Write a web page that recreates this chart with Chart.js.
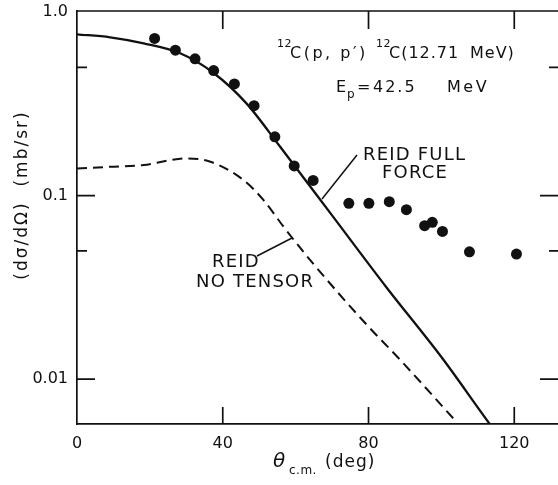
<!DOCTYPE html>
<html>
<head>
<meta charset="utf-8">
<script src="https://cdn.jsdelivr.net/npm/chart.js@4"></script>
<style>html,body{margin:0;padding:0;background:#fff}canvas{display:block}</style>
</head>
<body>
<canvas id="myChart" width="558" height="485"></canvas>
<script>
const xTicks = [0, 40, 80, 120];
const yTicks = [1, 0.1, 0.01];
const yTickLabels = ['1.0', '0.1', '0.01'];
const yMinorTicks = [0.5, 0.05];

// measured 12C(p,p') points
const dataAngles = [21.3, 27.0, 32.4, 37.5, 43.2, 48.6, 54.3, 59.6, 64.8, 74.6, 80.1, 85.7, 90.4, 95.4, 97.5, 100.3, 107.7, 120.6];
const dataValues = [0.718, 0.620, 0.556, 0.480, 0.406, 0.309, 0.209, 0.145, 0.121, 0.0908, 0.0908, 0.0927, 0.0838, 0.0686, 0.0715, 0.0638, 0.0494, 0.048];

// Reid full force (solid)
const fullAngles = [0, 9.1, 18.3, 28.3, 37.4, 46.5, 55.7, 70, 85, 100, 113.3, 116];
const fullValues = [0.756, 0.728, 0.675, 0.596, 0.467, 0.318, 0.185, 0.078, 0.0315, 0.0132, 0.00569, 0.00483];

// Reid no tensor (dashed)
const noTensorAngles = [0, 9.1, 18.3, 25.6, 30.2, 36.6, 45.7, 51.2, 56.7, 64.0, 79.5, 88.6, 103.7];
const noTensorValues = [0.1407, 0.1435, 0.1467, 0.156, 0.1595, 0.1529, 0.1215, 0.0945, 0.0676, 0.0445, 0.0198, 0.0128, 0.00598];

const ink = '#111';
const font = 'DejaVu Sans';

const toXY = (xs, ys) => xs.map((x, i) => ({x: x, y: ys[i]}));

const drawText = (ctx, str, x, y, size, spacing, style) => {
    ctx.font = (style || '') + ' ' + size + 'px "' + font + '"';
    ctx.letterSpacing = (spacing || 0) + 'px';
    ctx.fillText(str, x, y);
};

const decorations = {
    id: 'decorations',
    afterDraw(chart) {
        const {ctx, chartArea: a, scales: {x, y}} = chart;
        ctx.save();
        ctx.strokeStyle = ink;
        ctx.lineWidth = 1.7;
        ctx.beginPath();
        ctx.moveTo(a.left, a.top);
        ctx.lineTo(a.right, a.top);
        xTicks.forEach(v => {
            if (v === 0) return;
            const px = x.getPixelForValue(v);
            ctx.moveTo(px, a.bottom);
            ctx.lineTo(px, a.bottom - 17);
            ctx.moveTo(px, a.top);
            ctx.lineTo(px, a.top + 18);
        });
        yTicks.forEach(v => {
            if (v === 1) return;
            const py = y.getPixelForValue(v);
            ctx.moveTo(a.left, py);
            ctx.lineTo(a.left + 18, py);
            ctx.moveTo(a.right, py);
            ctx.lineTo(a.right - 18, py);
        });
        yMinorTicks.forEach(v => {
            const py = y.getPixelForValue(v);
            ctx.moveTo(a.left, py);
            ctx.lineTo(a.left + 10, py);
            ctx.moveTo(a.right, py);
            ctx.lineTo(a.right - 9, py);
        });
        ctx.stroke();

        // leader lines
        ctx.lineWidth = 1.5;
        ctx.beginPath();
        ctx.moveTo(357, 155);
        ctx.lineTo(322, 199);
        ctx.moveTo(257, 256);
        ctx.lineTo(292, 238);
        ctx.stroke();

        ctx.fillStyle = ink;
        ctx.textAlign = 'left';
        ctx.textBaseline = 'alphabetic';

        // reaction label
        drawText(ctx, '12', 277, 47, 11, 0.5);
        drawText(ctx, 'C(p, p\u2032)', 290, 58, 16, 2.5);
        drawText(ctx, '12', 376, 47, 11, 0.5);
        drawText(ctx, 'C(12.71', 389, 58, 16, 1);
        drawText(ctx, 'MeV)', 470, 58, 16, 1);
        drawText(ctx, 'E', 336, 92, 16, 0);
        drawText(ctx, 'p', 347, 98, 12, 0);
        drawText(ctx, '=', 357, 92, 16, 0);
        drawText(ctx, '42.5', 373, 92, 16, 2);
        drawText(ctx, 'MeV', 447, 92, 16, 2.5);

        // curve labels
        drawText(ctx, 'REID FULL', 363, 160, 18, 1.2);
        drawText(ctx, 'FORCE', 382, 178, 18, 1.2);
        drawText(ctx, 'REID', 212, 267, 18, 1.2);
        drawText(ctx, 'NO TENSOR', 196, 287, 18, 1.2);

        // x title
        drawText(ctx, '\u03b8', 273, 467, 20, 0, 'oblique');
        drawText(ctx, 'c.m.', 289, 474, 12, 0.5);
        drawText(ctx, '(deg)', 325, 467, 17, 1);

        // y title
        ctx.translate(23, 195);
        ctx.rotate(-Math.PI / 2);
        ctx.textAlign = 'center';
        ctx.textBaseline = 'middle';
        drawText(ctx, '(d\u03c3/d\u03a9)  (mb/sr)', 0, 0, 17, 2);
        ctx.restore();
    }
};

const data = {
    datasets: [{
        label: 'data',
        data: toXY(dataAngles, dataValues),
        backgroundColor: ink,
        borderWidth: 0,
        pointRadius: 5.5,
        showLine: false
    }, {
        label: 'Reid full force',
        data: toXY(fullAngles, fullValues),
        borderColor: ink,
        borderWidth: 2.3,
        pointRadius: 0,
        showLine: true,
        cubicInterpolationMode: 'monotone'
    }, {
        label: 'Reid no tensor',
        data: toXY(noTensorAngles, noTensorValues),
        borderColor: ink,
        borderWidth: 2,
        borderDash: [10, 6],
        pointRadius: 0,
        showLine: true,
        cubicInterpolationMode: 'monotone'
    }]
};

const tickFont = {family: font, size: 16};

const config = {
    type: 'scatter',
    data: data,
    plugins: [decorations],
    options: {
        responsive: false,
        animation: false,
        layout: {autoPadding: false, padding: {top: 11, right: 0, left: 0, bottom: 0}},
        plugins: {legend: {display: false}, tooltip: {enabled: false}},
        scales: {
            x: {
                type: 'linear',
                min: 0,
                max: 132,
                afterFit(s) { s.height = 61; s.paddingLeft = 0; s.paddingRight = 0; },
                afterBuildTicks(s) { s.ticks = xTicks.map(v => ({value: v})); },
                grid: {display: false, drawTicks: false},
                border: {display: true, width: 1.7, color: ink},
                ticks: {padding: 10, color: ink, font: tickFont, maxRotation: 0, autoSkip: false}
            },
            y: {
                type: 'logarithmic',
                min: 0.0057,
                max: 1.013,
                afterFit(s) { s.width = 77; s.paddingTop = 0; s.paddingBottom = 0; },
                afterBuildTicks(s) { s.ticks = yTicks.map(v => ({value: v})); },
                grid: {display: false, drawTicks: false},
                border: {display: true, width: 1.7, color: ink},
                ticks: {
                    padding: 9,
                    color: ink,
                    font: tickFont,
                    autoSkip: false,
                    callback: (v) => yTickLabels[yTicks.indexOf(v)]
                }
            }
        }
    }
};

const myChart = new Chart(document.getElementById('myChart'), config);
</script>
</body>
</html>
